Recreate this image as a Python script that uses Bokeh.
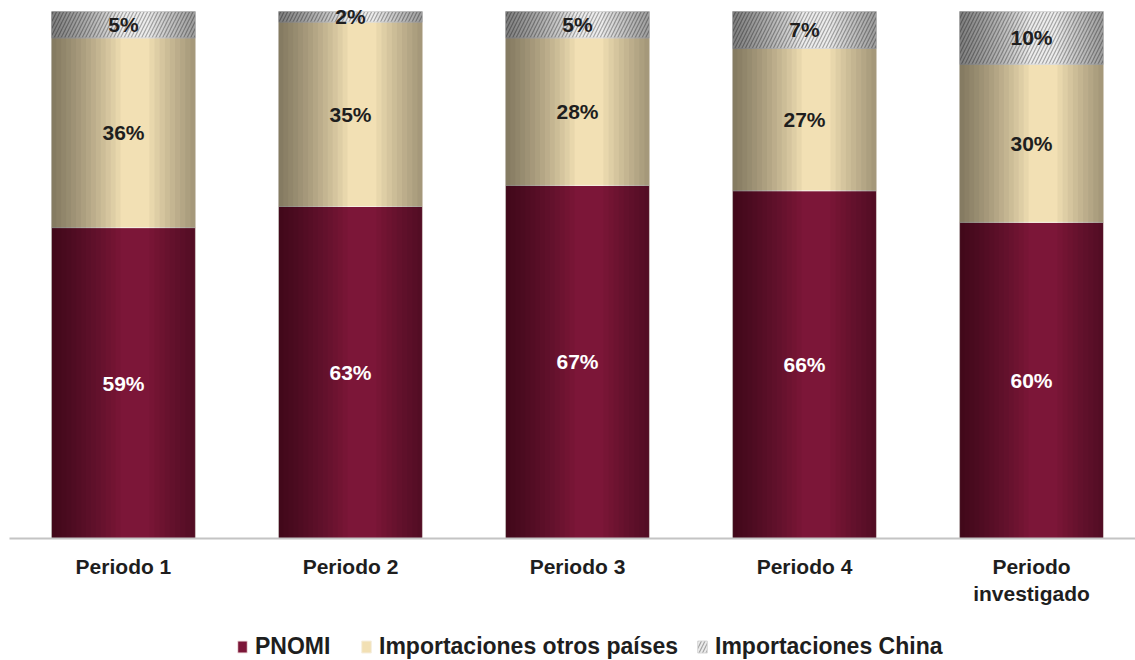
from bokeh.plotting import figure
from bokeh.layouts import column
from bokeh.models import (ColumnDataSource, Range1d, FixedTicker, Legend, LegendItem)
from bokeh.core.properties import value
from bokeh.embed import file_html
from bokeh.resources import INLINE

# ---- data ----
categories = ["Periodo 1", "Periodo 2", "Periodo 3", "Periodo 4", "Periodo\ninvestigado"]
pnomi = [59, 63, 67, 66, 60]
otros = [36, 35, 28, 27, 30]
china = [5, 2, 5, 7, 10]
series_names = ["PNOMI", "Importaciones otros países", "Importaciones China"]

FONT = "Liberation Sans"
xs = list(range(len(categories)))

b1 = [0] * len(xs)
t1 = [a for a in pnomi]
b2 = t1
t2 = [a + b for a, b in zip(t1, otros)]
b3 = t2
t3 = [a + b for a, b in zip(t2, china)]

src = ColumnDataSource(dict(
    x=xs, b1=b1, t1=t1, b2=b2, t2=t2, b3=b3, t3=t3,
    m1=[(a + b) / 2 for a, b in zip(b1, t1)],
    m2=[(a + b) / 2 for a, b in zip(b2, t2)],
    m3=[(a + b) / 2 for a, b in zip(b3, t3)],
    l1=[f"{v}%" for v in pnomi],
    l2=[f"{v}%" for v in otros],
    l3=[f"{v}%" for v in china],
))

styles = [
    dict(fill_color="#7c1638", line_color="#f4e6e6", line_width=1),
    dict(fill_color="#f2e0b4", line_color="#f6efe0", line_width=1),
    dict(fill_color="#ececec", line_color="#d8d8d8", line_width=1,
         hatch_pattern="/", hatch_color="#a4a4a4", hatch_scale=7, hatch_weight=1.2),
]

p = figure(width=1135, height=612, output_backend="svg", toolbar_location=None,
           x_range=Range1d(-0.502, 4.458), y_range=Range1d(0, 102.09),
           y_axis_location=None, min_border_left=9, min_border_right=0,
           min_border_top=0, min_border_bottom=74)
p.outline_line_color = None
p.xgrid.visible = False
p.ygrid.visible = False

W = 0.634
p.vbar(x="x", bottom="b1", top="t1", width=W, source=src, **styles[0])
p.vbar(x="x", bottom="b2", top="t2", width=W, source=src, **styles[1])
p.vbar(x="x", bottom="b3", top="t3", width=W, source=src, **styles[2])

# cylindrical shading: nested translucent layers from each bar edge
NL, NR = 14, 9
left_fracs = [0.48 * (k + 1) / NL for k in range(NL)]
right_fracs = [0.32 * (k + 1) / NR for k in range(NR)]
sx, sw, st = [], [], []
for x, top in zip(xs, t3):
    x0 = x - W / 2
    x1 = x + W / 2
    for f in left_fracs:
        w = f * W
        sx.append(x0 + w / 2); sw.append(w); st.append(top)
    for f in right_fracs:
        w = f * W
        sx.append(x1 - w / 2); sw.append(w); st.append(top)
shade = ColumnDataSource(dict(x=sx, w=sw, top=st))
p.vbar(x="x", bottom=0, top="top", width="w", source=shade,
       fill_color="black", fill_alpha=0.038, line_color=None)

common = dict(text_font=value(FONT), text_font_size="21px", text_font_style="bold",
              text_align="center", text_baseline="middle")
p.text(x="x", y="m1", text="l1", source=src, text_color="white", **common)
p.text(x="x", y="m2", text="l2", source=src, text_color="#1e1e1e", **common)
p.text(x="x", y="m3", text="l3", source=src, text_color="#1e1e1e", **common)

ax = p.xaxis[0]
ax.ticker = FixedTicker(ticks=xs)
ax.major_label_overrides = {i: c for i, c in zip(xs, categories)}
ax.axis_line_color = "#c4c4c4"
ax.axis_line_width = 2
ax.major_tick_line_color = None
ax.minor_tick_line_color = None
ax.major_label_text_font = FONT
ax.major_label_text_font_size = "21px"
ax.major_label_text_font_style = "bold"
ax.major_label_text_color = "#1e1e1e"
ax.major_label_standoff = 10

# ---- legend strip ----
pl = figure(width=1135, height=48, output_backend="svg", toolbar_location=None,
            x_range=Range1d(0, 1), y_range=Range1d(0, 1),
            x_axis_location=None, y_axis_location=None,
            min_border_left=9, min_border_right=0, min_border_top=0, min_border_bottom=0)
pl.outline_line_color = None
pl.xgrid.visible = False
pl.ygrid.visible = False
# zero-size placeholder bars: only their style is used, for the legend keys
dummy = ColumnDataSource(dict(x=[0], top=[0], bottom=[0]))
leg_x = [227, 351, 687]
for name, sty, lx in zip(series_names, styles, leg_x):
    r = pl.vbar(x="x", top="top", bottom="bottom", width=0, source=dummy, **sty)
    lg = Legend(items=[LegendItem(label=name, renderers=[r])], location=(lx, 0),
                padding=0, margin=0, spacing=0, label_standoff=7,
                glyph_width=12, glyph_height=15, label_height=15,
                border_line_color=None, background_fill_alpha=0,
                label_text_font=FONT, label_text_font_size="23px",
                label_text_font_style="bold", label_text_color="#1e1e1e")
    pl.add_layout(lg)

layout = column(p, pl, spacing=0)
open("out.html", "w").write(file_html(layout, INLINE))
